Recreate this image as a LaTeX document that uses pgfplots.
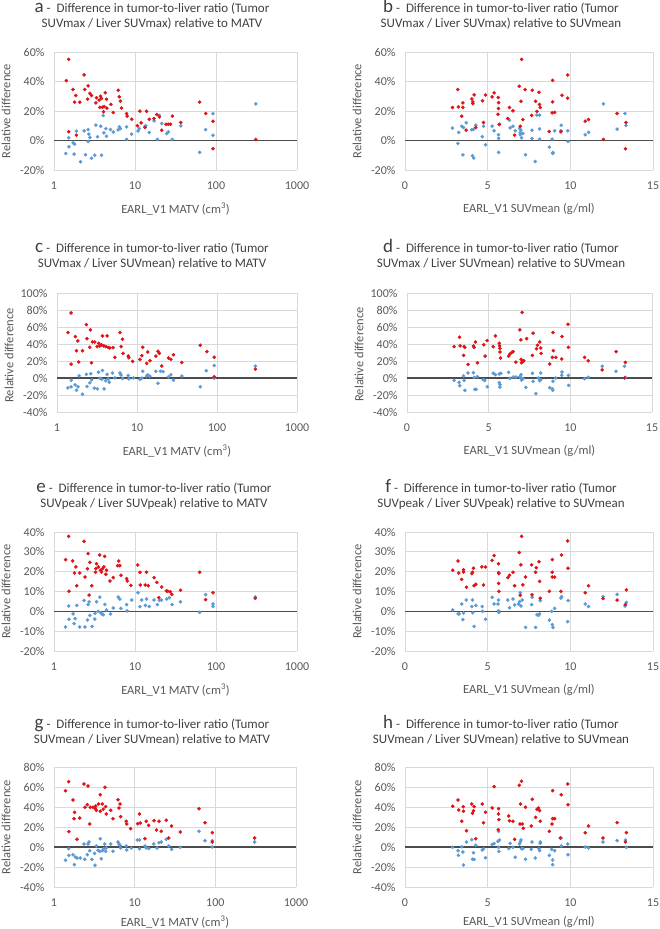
\documentclass[border=0pt]{standalone}
\usepackage{fontspec}
\setmainfont{Carlito}
\usepackage{pgfplots}
\pgfplotsset{compat=1.18}

\definecolor{ptred}{RGB}{222,20,24}
\definecolor{ptblue}{HTML}{5B9BD5}
\definecolor{gridc}{HTML}{D9D9D9}
\definecolor{txtgray}{HTML}{595959}
\definecolor{ttlgray}{HTML}{404040}
\newcommand\tfont{\fontsize{12}{14}\selectfont\color{txtgray}}
\newcommand\lfont{\fontsize{12.5}{15}\selectfont\color{txtgray}}

\pgfplotsset{
  mypanel/.style={
    scale only axis, anchor=south west,
    axis line style={draw=none}, tick style={draw=none},
    grid=major, major grid style={draw=gridc, line width=0.9pt},
    every axis x label/.style={at={(rel axis cs:0.5,0)}, yshift=-39pt, anchor=center},
    every axis y label/.style={at={(rel axis cs:0,0.5)}, xshift=-48pt, rotate=90, anchor=center},
    ylabel={Relative difference},
    extra y ticks={0}, extra y tick labels={},
    extra y tick style={grid=major, major grid style={draw=black!70, line width=1.1pt}},
  },
  mylogx/.style={mypanel, xmin=1, xmax=1000, xtick={1,10,100,1000},
    xticklabels={1,10,100,1000}, xlabel={EARL\_V1 MATV (cm\textsuperscript{3})}},
  mylinx/.style={mypanel, xmin=0, xmax=15, xtick={0,5,10,15},
    xticklabels={0,5,10,15}, xlabel={EARL\_V1 SUVmean (g/ml)}},
  myya/.style={ymin=-20, ymax=60, ytick={-20,0,20,40,60}, yticklabels={-20\%,0\%,20\%,40\%,60\%}},
  myyc/.style={ymin=-40, ymax=100, ytick={-40,-20,0,20,40,60,80,100},
    yticklabels={-40\%,-20\%,0\%,20\%,40\%,60\%,80\%,100\%}},
  myye/.style={ymin=-20, ymax=40, ytick={-20,-10,0,10,20,30,40},
    yticklabels={-20\%,-10\%,0\%,10\%,20\%,30\%,40\%}},
  myyg/.style={ymin=-40, ymax=80, ytick={-40,-20,0,20,40,60,80},
    yticklabels={-40\%,-20\%,0\%,20\%,40\%,60\%,80\%}},
  mybl/.style={only marks, mark=*, mark size=1.6pt, color=ptblue},
  myrd/.style={only marks, mark=*, mark size=1.6pt, color=ptred},
}

% title: centre x, baseline y of first line, letter, line 1, line 2
\newcommand\ttl[5]{%
  \node[anchor=base, font=\fontsize{13}{15}\selectfont\color{ttlgray}] at (#1pt,#2pt)
    {{\fontsize{19}{19}\selectfont #3}\ -\ \ #4};
  \node[anchor=base, font=\fontsize{13}{15}\selectfont\color{ttlgray}] at (#1pt,#2pt-15pt) {#5};}

\begin{document}
\begin{tikzpicture}
\path[fill=white, use as bounding box] (0,0) rectangle (659pt,929pt);

\ttl{152}{916}{a}{Difference in tumor-to-liver ratio (Tumor}{SUVmax / Liver SUVmax) relative to MATV}
\ttl{501}{916}{b}{Difference in tumor-to-liver ratio (Tumor}{SUVmax / Liver SUVmax) relative to SUVmean}
\ttl{152}{676}{c}{Difference in tumor-to-liver ratio (Tumor}{SUVmax / Liver SUVmean) relative to MATV}
\ttl{501}{676}{d}{Difference in tumor-to-liver ratio (Tumor}{SUVmax / Liver SUVmean) relative to SUVmean}
\ttl{154}{436}{e}{Difference in tumor-to-liver ratio (Tumor}{SUVpeak / Liver SUVpeak) relative to MATV}
\ttl{501}{436}{f}{Difference in tumor-to-liver ratio (Tumor}{SUVpeak / Liver SUVpeak) relative to SUVmean}
\ttl{152}{200}{g}{Difference in tumor-to-liver ratio (Tumor}{SUVmean / Liver SUVmean) relative to MATV}
\ttl{501}{200}{h}{Difference in tumor-to-liver ratio (Tumor}{SUVmean / Liver SUVmean) relative to SUVmean}

% ---------- a ----------
\begin{axis}[xmode=log, mylogx, myya, at={(54pt,759pt)}, width=243pt, height=118pt,
  tick label style={font=\tfont}, label style={font=\lfont},
  xticklabel style={yshift=-8pt}, yticklabel style={xshift=-6pt}]
\addplot[mybl] coordinates {
(1.40,-8.8) (1.52,1.8) (1.53,-4.3) (1.72,-1.6) (1.80,-2.5) (1.77,-9.2) (1.89,6.3)
(2.12,-14.4) (2.35,6.5) (2.45,-9.7) (2.64,7.4) (2.64,-0.7) (2.70,4.3) (2.78,2.0)
(2.90,-12.0) (3.19,-10.0) (3.29,10.4) (3.45,2.5) (3.78,9.7) (3.85,-10.0) (4.05,16.9)
(4.13,5.2) (4.37,8.1) (4.45,2.9) (4.98,7.4) (5.39,5.8) (6.20,7.2) (6.40,9.2)
(6.60,8.1) (7.88,9.2) (7.88,0.7) (9.10,4.3) (10.9,6.5) (11.3,8.1) (13.3,9.7)
(13.6,10.0) (15.0,5.4) (17.2,13.3) (18.9,0.7) (20.0,17.0) (21.4,11.5) (24.6,4.7)
(25.8,5.8) (28.9,0.7) (36.8,9.9) (62.8,-8.0) (74.5,7.4) (91.8,18.2) (91.8,3.6) (310,24.8)
};
\addplot[myrd] coordinates {
(1.42,40.6) (1.52,55.0) (1.52,6.0) (1.72,34.6) (1.80,26.0) (1.86,30.5) (1.89,3.6)
(2.08,26.0) (2.35,44.5) (2.40,34.6) (2.64,37.0) (2.60,28.0) (2.77,32.0) (2.90,30.5)
(3.29,25.5) (3.35,29.0) (3.60,27.4) (3.75,30.0) (3.85,28.5) (3.68,22.5) (3.97,22.5)
(4.08,19.5) (4.16,23.0) (4.29,32.4) (4.45,28.0) (4.50,22.0) (5.04,24.5) (5.39,19.0)
(6.21,34.0) (6.40,29.6) (6.60,26.7) (6.80,22.0) (7.88,18.2) (8.00,16.5) (9.10,14.4)
(10.7,10.0) (11.5,19.9) (11.9,12.0) (13.3,8.8) (13.9,19.8) (15.0,14.4) (17.2,14.9)
(18.6,17.6) (20.0,16.0) (21.4,7.0) (24.2,11.0) (25.8,11.0) (27.5,11.0) (28.9,16.5)
(36.8,12.2) (62.8,26.0) (74.5,18.3) (91.8,13.0) (91.8,-5.6) (310,0.7)
};
\end{axis}

% ---------- b ----------
\begin{axis}[mylinx, myya, at={(405pt,759pt)}, width=248pt, height=118pt,
  tick label style={font=\tfont}, label style={font=\lfont},
  xticklabel style={yshift=-8pt}, yticklabel style={xshift=-6pt}]
\addplot[mybl] coordinates {
(2.87,8.4) (3.20,-2.0) (3.25,5.5) (3.43,9.7) (3.50,-9.7) (3.54,8.8) (3.70,12.0)
(4.04,7.3) (4.08,-10.3) (4.16,-11.9) (4.14,7.5) (4.28,10.4) (4.67,2.5) (4.75,9.7)
(4.87,-2.9) (5.27,9.7) (5.39,6.6) (5.66,3.9) (5.66,1.4) (5.66,-8.1) (5.72,11.1)
(6.32,13.8) (6.36,8.6) (6.53,9.7) (6.67,6.6) (6.93,8.2) (6.97,5.2) (6.97,3.9)
(7.01,7.0) (7.05,1.8) (7.13,4.8) (7.29,-9.7) (7.68,7.0) (7.68,1.4) (7.88,-14.2)
(7.98,17.2) (8.14,7.9) (8.14,17.2) (8.14,0.9) (8.73,-4.5) (8.90,0.9) (8.93,-8.8)
(8.95,-8.1) (9.05,6.6) (9.43,6.6) (9.45,10.4) (9.84,6.6) (9.86,-0.7) (10.9,3.9)
(11.1,5.5) (12.0,24.8) (12.83,7.7) (13.3,18.3) (13.37,10.2)
};
\addplot[myrd] coordinates {
(2.87,22.4) (3.19,34.5) (3.23,22.8) (3.43,16.5) (3.50,22.4) (3.50,25.5) (3.70,7.0)
(4.04,28.2) (4.10,26.2) (4.10,25.0) (4.18,30.9) (4.28,8.8) (4.69,26.9) (4.75,12.2)
(4.87,30.9) (5.27,29.6) (5.39,32.3) (5.64,29.1) (5.66,25.7) (5.66,21.7) (5.62,17.8)
(5.70,10.9) (6.22,14.9) (6.32,22.4) (6.53,20.1) (6.63,3.6) (6.91,36.8) (7.01,26.6)
(6.97,9.7) (7.05,55.0) (7.13,14.2) (7.27,34.5) (7.66,17.0) (7.70,34.1) (7.90,26.6)
(7.98,19.7) (8.10,32.7) (8.14,24.4) (8.18,22.4) (8.73,6.1) (8.90,18.7) (8.93,40.8)
(8.93,26.2) (9.05,19.0) (9.43,5.9) (9.50,30.7) (9.84,44.4) (9.84,28.7) (10.9,13.1)
(11.1,14.2) (12.0,0.7) (12.83,18.3) (13.37,12.2) (13.33,-5.6)
};
\end{axis}

% ---------- c ----------
\begin{axis}[xmode=log, mylogx, myyc, at={(57pt,517pt)}, width=240pt, height=119pt,
  every axis y label/.append style={xshift=-3pt},
  tick label style={font=\tfont}, label style={font=\lfont},
  xticklabel style={yshift=-8pt}, yticklabel style={xshift=-6pt}]
\addplot[mybl] coordinates {
(1.37,-11.6) (1.50,-10.4) (1.51,-2.6) (1.68,-8.1) (1.75,-14.4) (1.83,-10.4) (1.89,2.6)
(2.08,-19.1) (2.33,4.3) (2.37,-10.0) (2.57,-5.7) (2.64,5.1) (2.71,-2.1) (2.93,-12.0)
(3.20,-12.8) (3.30,6.7) (3.43,-0.4) (3.63,-1.4) (3.70,8.9) (3.88,-12.8) (4.06,-3.3)
(4.23,4.3) (4.36,-1.2) (4.50,-5.1) (4.95,5.9) (5.28,0.2) (6.12,5.9) (6.30,3.5)
(6.60,-0.6) (7.78,3.0) (7.90,-1.0) (9.00,0.2) (10.9,-1.4) (11.5,-0.2) (11.8,7.9)
(13.2,2.2) (13.6,3.7) (14.5,2.2) (17.2,7.9) (18.3,-6.3) (19.7,7.9) (21.2,7.5)
(24.7,1.4) (26.5,3.7) (28.6,-2.6) (36.3,2.2) (61.8,-10.4) (73.5,8.5) (92.4,14.8)
(92.4,-0.2) (302,14.0)
};
\addplot[myrd] coordinates {
(1.37,53.5) (1.50,76.5) (1.50,16.4) (1.70,48.7) (1.75,32.1) (1.82,43.6) (1.87,18.7)
(2.08,32.1) (2.33,62.9) (2.37,46.3) (2.57,36.1) (2.62,56.6) (2.70,17.9) (2.77,42.4)
(2.96,42.4) (3.17,36.9) (3.33,40.8) (3.43,37.7) (3.60,39.2) (3.70,49.5) (3.85,37.7)
(4.08,36.9) (4.23,49.5) (4.36,36.1) (4.58,35.3) (5.04,35.7) (5.28,24.3) (6.12,53.5)
(6.35,36.9) (6.60,45.6) (6.70,29.0) (7.78,25.8) (7.90,23.9) (8.83,19.5) (10.9,21.9)
(11.5,26.2) (11.8,36.1) (13.2,17.1) (13.6,30.6) (14.5,20.3) (17.2,25.8) (18.3,31.4)
(19.0,29.0) (20.4,14.0) (24.7,23.5) (26.5,21.9) (28.6,27.4) (36.3,18.3) (61.8,38.5)
(74.8,31.0) (92.4,24.3) (92.4,1.4) (302,10.4)
};
\end{axis}

% ---------- d ----------
\begin{axis}[mylinx, myyc, at={(407pt,517pt)}, width=245pt, height=119pt,
  every axis y label/.append style={xshift=-2pt},
  tick label style={font=\tfont}, label style={font=\lfont},
  xticklabel style={yshift=-8pt}, yticklabel style={xshift=-6pt}]
\addplot[mybl] coordinates {
(2.89,-2.8) (3.19,-5.1) (3.23,-9.1) (3.46,2.4) (3.50,-2.8) (3.54,-14.6) (3.74,5.9)
(4.07,6.3) (4.11,0.8) (4.15,-13.4) (4.23,-13.4) (4.31,1.6) (4.67,-2.0) (4.76,-2.8)
(4.92,-10.3) (5.28,5.5) (5.41,3.9) (5.65,4.7) (5.65,-5.5) (5.69,-7.9) (5.69,-10.7)
(5.75,5.5) (6.22,6.7) (6.30,-0.4) (6.50,1.2) (6.67,1.2) (6.91,1.6) (6.95,0.0)
(6.99,3.9) (7.01,-2.4) (7.11,-0.8) (7.28,-11.0) (7.68,5.5) (7.72,-3.9) (7.89,-18.3)
(8.03,0.0) (8.13,-3.2) (8.19,5.9) (8.19,-2.0) (8.74,-11.4) (8.90,-12.8) (8.92,-14.4)
(8.94,-3.9) (9.11,0.0) (9.47,3.2) (9.49,7.1) (9.88,3.2) (9.90,-8.7) (10.87,-0.8)
(11.1,0.8) (11.95,13.8) (12.8,7.9) (13.31,13.8) (13.37,0.8)
};
\addplot[myrd] coordinates {
(2.89,36.9) (3.21,47.9) (3.25,37.7) (3.46,26.6) (3.50,36.9) (3.54,36.1) (3.74,16.0)
(4.07,37.7) (4.11,36.1) (4.19,42.4) (4.31,17.9) (4.70,39.2) (4.78,25.8) (4.90,44.0)
(5.28,36.9) (5.41,49.5) (5.65,40.8) (5.67,37.7) (5.69,34.9) (5.69,30.6) (5.73,23.5)
(6.22,25.8) (6.30,28.2) (6.42,30.2) (6.50,31.0) (6.67,18.7) (6.91,56.6) (6.97,44.8)
(6.99,21.9) (7.01,17.9) (7.05,77.1) (7.11,19.5) (7.15,20.3) (7.32,46.3) (7.68,26.6)
(7.72,52.7) (7.93,34.5) (7.99,38.5) (8.13,42.4) (8.19,35.3) (8.21,29.0) (8.74,16.4)
(8.90,24.3) (8.94,53.5) (8.96,32.1) (9.11,24.3) (9.47,22.3) (9.49,48.7) (9.86,63.3)
(9.88,36.1) (10.87,24.3) (11.1,20.3) (11.95,9.5) (12.8,31.0) (13.37,18.3) (13.31,0.0)
};
\end{axis}

% ---------- e ----------
\begin{axis}[xmode=log, mylogx, myye, at={(54pt,278pt)}, width=243pt, height=119pt,
  tick label style={font=\tfont}, label style={font=\lfont},
  xticklabel style={yshift=-8pt}, yticklabel style={xshift=-6pt}]
\addplot[mybl] coordinates {
(1.39,-7.9) (1.52,2.7) (1.53,-4.0) (1.72,-1.3) (1.77,-6.2) (1.82,-3.7) (1.91,3.0)
(2.08,-7.9) (2.35,5.5) (2.42,-7.9) (2.59,-4.4) (2.64,3.4) (2.71,4.8) (2.77,-2.0)
(2.95,-7.6) (3.19,-3.9) (3.22,-1.0) (3.35,4.8) (3.51,0.0) (3.68,7.2) (3.78,-0.7)
(3.90,-1.3) (4.05,-1.7) (4.25,3.5) (4.45,0.7) (4.98,-1.3) (5.39,1.7) (6.20,7.2)
(6.50,6.2) (6.70,1.5) (7.88,3.4) (8.00,0.2) (9.10,5.7) (10.9,9.4) (11.5,2.4)
(12.1,5.7) (13.4,3.0) (13.9,6.2) (15.0,2.4) (17.2,5.7) (18.9,3.4) (20.0,5.5)
(21.2,5.7) (24.6,6.2) (26.6,6.9) (28.7,3.4) (36.4,4.8) (62.8,-0.5) (74.5,8.4)
(91.8,3.7) (91.8,2.4) (305,7.2)
};
\addplot[myrd] coordinates {
(1.39,26.1) (1.52,37.8) (1.53,10.1) (1.70,25.4) (1.79,19.3) (1.86,22.4) (1.91,12.9)
(2.08,19.3) (2.35,35.3) (2.42,17.3) (2.59,21.5) (2.64,29.1) (2.71,8.2) (2.77,24.7)
(2.93,12.9) (3.26,19.7) (3.29,21.5) (3.35,24.0) (3.54,22.4) (3.68,28.4) (3.75,20.7)
(3.86,19.8) (3.97,21.5) (4.13,22.4) (4.21,27.7) (4.37,18.7) (4.45,20.7) (4.90,15.3)
(5.39,17.0) (6.10,23.0) (6.30,25.4) (6.50,23.0) (6.70,18.2) (7.88,16.5) (8.00,15.3)
(8.90,13.1) (10.8,23.4) (11.5,19.7) (11.6,13.3) (13.4,13.3) (13.9,19.7) (14.6,12.9)
(17.2,17.0) (18.6,14.6) (19.7,6.9) (21.4,12.3) (24.4,10.3) (25.4,10.1) (27.2,9.9)
(28.5,8.6) (36.4,10.6) (62.8,19.7) (74.5,5.9) (91.8,9.4) (305,6.6)
};
\end{axis}

% ---------- f ----------
\begin{axis}[mylinx, myye, at={(405pt,278pt)}, width=248pt, height=119pt,
  tick label style={font=\tfont}, label style={font=\lfont},
  xticklabel style={yshift=-8pt}, yticklabel style={xshift=-6pt}]
\addplot[mybl] coordinates {
(2.89,0.7) (3.21,-1.3) (3.27,-1.3) (3.43,3.7) (3.50,-4.2) (3.54,-0.8) (3.70,5.7)
(4.04,2.4) (4.08,5.7) (4.10,-0.7) (4.18,-7.6) (4.28,3.0) (4.67,2.4) (4.69,0.0)
(4.87,-4.0) (5.27,7.1) (5.39,3.7) (5.62,3.7) (5.66,5.7) (5.66,0.3) (5.68,-0.5)
(6.22,5.7) (6.32,1.8) (6.53,6.2) (6.63,3.2) (6.87,3.7) (6.93,4.9) (6.97,9.4)
(7.01,2.7) (7.09,5.7) (7.29,-8.1) (7.66,3.4) (7.70,7.1) (7.90,-8.1) (7.98,-1.7)
(8.08,-2.0) (8.14,-1.3) (8.18,5.4) (8.73,-4.4) (8.87,0.0) (8.91,-6.7) (8.95,-8.1)
(9.05,1.5) (9.43,6.7) (9.47,7.4) (9.84,-5.2) (9.86,5.4) (10.9,3.7) (11.1,2.4)
(11.98,7.4) (12.83,8.6) (13.31,2.7) (13.39,4.5)
};
\addplot[myrd] coordinates {
(2.89,20.7) (3.21,25.4) (3.25,19.3) (3.43,16.1) (3.54,19.8) (3.54,21.0) (3.72,12.1)
(4.04,19.0) (4.08,19.7) (4.14,21.7) (4.18,12.9) (4.28,13.6) (4.65,22.4) (4.75,13.3)
(4.87,22.4) (5.27,25.7) (5.39,28.1) (5.66,24.0) (5.66,19.5) (5.68,19.0) (5.66,14.1)
(5.68,10.1) (6.22,17.0) (6.32,18.2) (6.53,19.7) (6.63,12.9) (6.91,29.7) (6.97,8.1)
(7.01,23.4) (7.05,37.8) (7.13,13.3) (7.29,17.3) (7.66,23.4) (7.68,8.4) (7.90,19.7)
(7.94,22.0) (8.10,25.0) (8.14,15.1) (8.18,6.6) (8.73,10.1) (8.91,26.1) (8.91,19.7)
(8.91,17.3) (9.05,17.3) (9.43,10.1) (9.47,28.4) (9.84,35.5) (9.86,21.7) (10.9,9.4)
(11.1,12.9) (11.98,6.4) (12.83,5.7) (13.33,3.4) (13.39,10.8)
};
\end{axis}

% ---------- g ----------
\begin{axis}[xmode=log, mylogx, myyg, at={(54pt,42pt)}, width=242pt, height=120pt,
  every axis x label/.append style={yshift=4pt},
  tick label style={font=\tfont}, label style={font=\lfont},
  xticklabel style={yshift=-8pt}, yticklabel style={xshift=-6pt}]
\addplot[mybl] coordinates {
(1.39,-13.3) (1.52,-1.7) (1.53,-8.3) (1.72,-7.7) (1.79,-17.7) (1.84,-10.0) (1.93,-11.0)
(2.12,-11.0) (2.35,3.0) (2.40,-12.3) (2.59,-7.7) (2.64,3.0) (2.71,5.0) (2.77,-3.7)
(2.95,-12.3) (3.19,-6.3) (3.22,-18.3) (3.35,1.0) (3.51,-3.3) (3.68,-4.3) (3.75,8.3)
(3.85,-11.7) (3.97,-3.7) (4.13,-1.7) (4.25,3.0) (4.37,-4.3) (4.45,-1.0) (5.04,3.0)
(5.39,-4.3) (6.21,5.0) (6.40,3.0) (6.60,1.7) (6.70,-1.0) (7.88,1.0) (8.00,-3.0)
(9.10,-1.0) (10.8,7.0) (11.5,7.0) (11.5,-1.7) (13.4,1.0) (13.9,-1.0) (15.0,-1.7)
(17.2,3.0) (18.9,-1.0) (20.0,4.3) (21.4,5.0) (24.6,7.7) (26.4,1.0) (28.7,-2.3)
(36.8,-0.3) (62.8,15.7) (74.5,6.3) (91.8,6.3) (91.8,0.0) (307,5.0)
};
\addplot[myrd] coordinates {
(1.39,56.3) (1.52,65.3) (1.53,15.3) (1.72,47.0) (1.80,34.7) (1.77,28.3) (1.93,7.7)
(2.08,29.0) (2.35,63.0) (2.42,39.7) (2.59,42.3) (2.64,61.0) (2.77,23.0) (2.81,39.7)
(3.04,39.7) (3.26,38.3) (3.29,41.0) (3.35,36.7) (3.57,43.0) (3.75,52.3) (3.75,35.7)
(3.97,43.0) (4.08,37.7) (4.29,59.7) (4.37,40.3) (4.45,33.0) (5.04,36.7) (5.39,28.3)
(6.21,47.3) (6.40,39.0) (6.60,43.0) (6.70,30.3) (7.88,25.7) (8.00,23.0) (8.90,18.3)
(10.9,23.3) (11.5,33.0) (11.7,24.0) (13.4,8.3) (13.9,25.7) (14.9,21.7) (17.4,26.3)
(18.6,17.0) (20.0,25.7) (21.4,15.7) (24.6,26.7) (26.4,9.0) (28.7,21.0) (36.8,15.0)
(62.8,38.3) (74.5,24.3) (91.8,14.3) (91.8,5.0) (307,9.0)
};
\end{axis}

% ---------- h ----------
\begin{axis}[mylinx, myyg, at={(405pt,42pt)}, width=248pt, height=120pt,
  every axis x label/.append style={yshift=4pt},
  tick label style={font=\tfont}, label style={font=\lfont},
  xticklabel style={yshift=-8pt}, yticklabel style={xshift=-6pt}]
\addplot[mybl] coordinates {
(2.87,-0.3) (3.21,-3.7) (3.23,-8.3) (3.43,0.3) (3.50,-5.0) (3.54,-18.0) (3.72,5.0)
(4.04,7.3) (4.08,-12.3) (4.14,-5.7) (4.18,-12.3) (4.28,1.7) (4.67,-3.0) (4.75,-1.7)
(4.87,-10.7) (5.27,2.7) (5.39,3.3) (5.62,5.7) (5.66,-0.3) (5.68,-4.3) (5.66,15.7)
(5.72,7.0) (6.28,-1.7) (6.36,3.7) (6.53,-0.3) (6.67,-10.3) (6.93,3.0) (6.97,5.0)
(7.01,7.0) (7.05,-1.7) (7.13,-1.7) (7.29,-12.3) (7.64,-2.3) (7.68,5.0) (7.88,-11.0)
(8.10,-1.7) (8.14,-3.7) (8.18,3.7) (8.18,5.0) (8.73,-8.3) (8.87,-2.3) (8.93,-13.0)
(8.93,-17.7) (9.05,-3.7) (9.43,9.0) (9.45,1.0) (9.84,3.0) (9.86,-7.7) (10.9,0.0)
(11.1,-1.0) (11.98,5.0) (12.83,6.3) (13.33,7.0) (13.39,-0.3)
};
\addplot[myrd] coordinates {
(2.89,40.7) (3.21,47.0) (3.25,37.0) (3.43,25.7) (3.52,40.3) (3.54,35.7) (3.72,16.3)
(4.04,43.0) (4.08,33.7) (4.14,36.3) (4.18,40.3) (4.28,8.3) (4.67,43.0) (4.75,24.3)
(4.87,34.7) (5.27,39.0) (5.39,60.3) (5.66,38.3) (5.66,33.0) (5.68,27.3) (5.64,17.3)
(6.28,31.0) (6.32,26.3) (6.53,25.7) (6.63,7.7) (6.91,61.7) (6.95,23.0) (6.99,43.0)
(7.05,65.7) (7.09,23.0) (7.15,18.7) (7.29,39.7) (7.64,21.0) (7.70,47.7) (7.90,29.7)
(7.98,37.7) (8.08,39.0) (8.14,36.3) (8.18,25.7) (8.73,15.7) (8.89,23.0) (8.93,56.3)
(8.93,28.3) (9.05,28.3) (9.39,9.0) (9.45,52.3) (9.84,63.0) (9.86,42.3) (10.9,14.3)
(11.1,21.0) (11.98,9.0) (12.83,24.3) (13.33,5.0) (13.39,14.3)
};
\end{axis}
\end{tikzpicture}
\end{document}
